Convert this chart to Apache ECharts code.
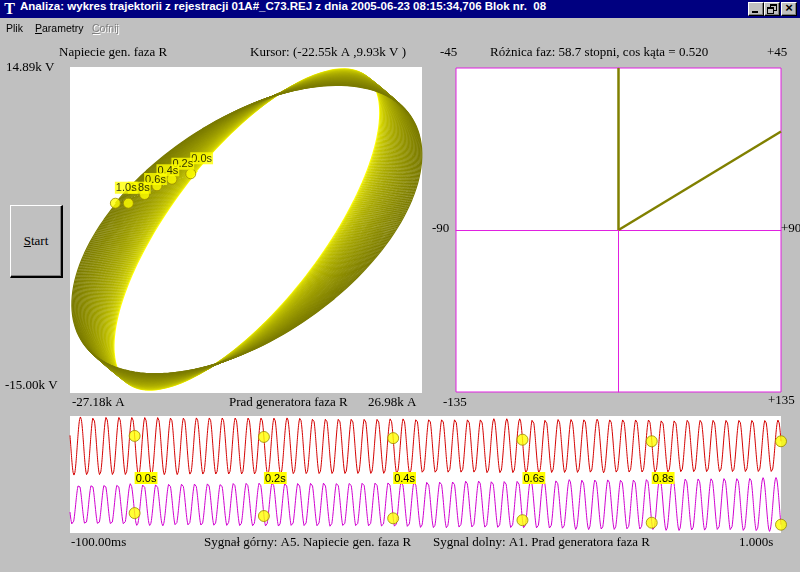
<!DOCTYPE html>
<html>
<head>
<meta charset="utf-8">
<script src="https://cdn.jsdelivr.net/npm/echarts@6/dist/echarts.min.js"></script>
<style>
html,body{margin:0;padding:0;width:800px;height:572px;overflow:hidden;background:#c0c0c0;}
#chart{position:absolute;left:0;top:0;width:800px;height:572px;}
#titlebar{position:absolute;left:0;top:0;width:800px;height:18px;background:#000080;z-index:5;}
#ticon{position:absolute;left:3px;top:0px;width:13px;height:17px;color:#fff;font:bold 16px 'Liberation Serif',serif;line-height:18px;text-align:center;}
#ttext{position:absolute;left:20px;top:0;height:18px;line-height:18px;color:#fff;font:bold 11.5px 'Liberation Sans',Arial,sans-serif;white-space:pre;}
.wbtn{position:absolute;top:2px;width:14px;height:12px;background:#c0c0c0;border-top:1px solid #fff;border-left:1px solid #fff;border-right:1px solid #000;border-bottom:1px solid #000;box-shadow:inset -1px -1px 0 #808080;}
#menubar{position:absolute;left:0;top:19px;width:800px;height:18px;z-index:5;font:10.5px 'Liberation Sans',Arial,sans-serif;color:#000;}
#menubar span{position:absolute;top:2px;line-height:14px;}
#startbtn{position:absolute;left:10px;top:205px;width:50px;height:70px;background:#c0c0c0;border-top:1px solid #fff;border-left:1px solid #fff;border-right:2px solid #000;border-bottom:2px solid #000;box-shadow:inset -1px -1px 0 #808080;z-index:5;font:13px 'Liberation Serif',serif;color:#000;text-align:center;line-height:70px;}
</style>
</head>
<body>
<div id="chart"></div>
<div id="titlebar">
  <div id="ticon">T</div>
  <div id="ttext">Analiza: wykres trajektorii z rejestracji 01A#_C73.REJ z dnia 2005-06-23 08:15:34,706 Blok nr.  08</div>
  <div class="wbtn" style="left:748px;"><div style="position:absolute;left:3px;top:8px;width:6px;height:2px;background:#000;"></div></div>
  <div class="wbtn" style="left:764px;"><div style="position:absolute;left:5px;top:1px;width:5px;height:4px;border:1px solid #000;border-top-width:2px;"></div><div style="position:absolute;left:2px;top:4px;width:5px;height:4px;border:1px solid #000;border-top-width:2px;background:#c0c0c0;"></div></div>
  <div class="wbtn" style="left:781px;"><div style="position:absolute;left:0;top:-2px;width:14px;text-align:center;font:bold 13px 'Liberation Sans',Arial,sans-serif;line-height:14px;">×</div></div>
</div>
<div id="menubar">
  <span style="left:6px;">Plik</span>
  <span style="left:35px;"><u>P</u>arametry</span>
  <span style="left:92px;color:#808080;text-shadow:1px 1px 0 #fff;"><u>C</u>ofnij</span>
</div>
<div id="startbtn"><u>S</u>tart</div>
<script>
// ---------------- data ----------------
// Axis ranges of the trajectory plot (labels on the panel)
const currentRange = [-27.18, 26.98];   // kA  (x axis)
const voltageRange = [-15.00, 14.89];   // kV  (y axis)
const cursorReading = ['-22.55k A', '9.93k V'];

// Oscillogram: time span and measured signal parameters
const sigTimeRange   = [-0.1, 1.0];     // s  (-100.00ms .. 1.000s)
const sigFrequency   = 50.0275;         // Hz (55 periods across the panel)
const sigStartAngle  = 159.6;           // deg, voltage angle at t = 0 s
const paramTimes     = [-0.1, 0.0, 0.2, 0.4, 0.6, 0.8, 1.0];             // s
const voltageAmp     = [14.74, 14.60, 14.32, 14.04, 13.76, 13.48, 13.20]; // kV
const currentAmp     = [20.4, 21.0, 22.2, 23.4, 24.6, 25.8, 27.0];       // kA
const currentLeadDeg = [43.2, 44.6, 47.5, 50.3, 53.2, 56.0, 58.9];       // deg

// Time markers (yellow dots)
const markerTimes   = [0.0, 0.2, 0.4, 0.6, 0.8, 1.0];
const markerLabels  = ['0.0s', '0.2s', '0.4s', '0.6s', '0.8s', '1.0s'];
const markerCurrent = [-8.6, -11.5, -13.8, -15.7, -18.2, -20.2];  // kA
const markerVoltage = [5.1, 4.6, 4.0, 3.2, 2.4, 2.4];             // kV

// Phase-difference panel
const phaseDiffDeg = 58.7;
const cosPhi = 0.520;
const phaseTickLabels = ['-45', '+45', '-90', '+90', '-135', '+135'];

// waveform display ranges
const voltWaveRange = [-15.2, 15.2];
const currWaveRange = [-28.5, 28.5];

// ---------------- build series ----------------
const DEG = Math.PI / 180;
function lerp(t, xs, ys) {
  if (t <= xs[0]) return ys[0];
  for (let i = 1; i < xs.length; i++) {
    if (t <= xs[i]) { const u = (t - xs[i-1]) / (xs[i] - xs[i-1]); return ys[i-1] + u * (ys[i] - ys[i-1]); }
  }
  return ys[ys.length - 1];
}
const dt = 0.000125;
const nS = Math.round((sigTimeRange[1] - sigTimeRange[0]) / dt);
const times = [], volt = [], curr = [];
for (let i = 0; i <= nS; i++) {
  const t = sigTimeRange[0] + i * dt;
  const th = (sigStartAngle + 360 * sigFrequency * t) * DEG;
  times.push(t);
  volt.push(lerp(t, paramTimes, voltageAmp) * Math.sin(th));
  curr.push(lerp(t, paramTimes, currentAmp) * Math.sin(th + lerp(t, paramTimes, currentLeadDeg) * DEG));
}

const series = [];
const spc = Math.round(1 / (sigFrequency * dt));
const nC = Math.ceil(nS / spc);
for (let k = 0; k < nC; k++) {
  const a = k * spc, b = Math.min(nS, (k + 1) * spc);
  const d = [];
  for (let i = a; i <= b; i++) d.push([curr[i], volt[i]]);
  const c = Math.pow(k / (nC - 1), 0.4);
  const r = Math.round(255 - 133 * c);
  series.push({
    type: 'line', xAxisIndex: 0, yAxisIndex: 0, data: d, symbol: 'none', showSymbol: false,
    lineStyle: { width: 1.2, color: 'rgb(' + r + ',' + r + ',0)' }, silent: true, z: 2
  });
}

// phasor end points from the phase difference
const phRad = phaseDiffDeg * DEG;
const dir = [Math.sin(phRad), Math.cos(phRad)];
const sc = 1 / Math.max(Math.abs(dir[0]), Math.abs(dir[1]));
const phasorRef = [[0, 0], [0, 1]];
const phasorCur = [[0, 0], [dir[0] * sc, dir[1] * sc]];
series.push({ type: 'line', xAxisIndex: 1, yAxisIndex: 1, data: phasorRef, symbol: 'none', lineStyle: { width: 2.5, color: '#808000' }, z: 3, silent: true });
series.push({ type: 'line', xAxisIndex: 1, yAxisIndex: 1, data: phasorCur, symbol: 'none', lineStyle: { width: 2.5, color: '#808000' }, z: 3, silent: true });

// waveforms
series.push({ type: 'line', xAxisIndex: 2, yAxisIndex: 2, data: times.map((t, i) => [t, volt[i]]), symbol: 'none', lineStyle: { width: 1, color: '#d40000' }, z: 2, silent: true });
series.push({ type: 'line', xAxisIndex: 3, yAxisIndex: 3, data: times.map((t, i) => [t, curr[i]]), symbol: 'none', lineStyle: { width: 1, color: '#d000d0' }, z: 2, silent: true });

const markerStyle = { color: '#ffff00', borderColor: '#9a8a00', borderWidth: 1 };
series.push({ type: 'scatter', xAxisIndex: 2, yAxisIndex: 2, data: markerTimes.map((t, i) => [t, markerVoltage[i]]), symbolSize: 11, itemStyle: markerStyle, z: 6, silent: true, clip: false });
series.push({ type: 'scatter', xAxisIndex: 3, yAxisIndex: 3, data: markerTimes.map((t, i) => [t, markerCurrent[i]]), symbolSize: 11, itemStyle: markerStyle, z: 6, silent: true, clip: false });
series.push({
  type: 'scatter', xAxisIndex: 0, yAxisIndex: 0, data: markerCurrent.map((c, i) => [c, markerVoltage[i]]),
  symbolSize: 10, itemStyle: markerStyle, z: 6, silent: true,
  label: { show: true, position: [5, -16], formatter: p => markerLabels[p.dataIndex], color: '#000', fontSize: 11,
           fontFamily: 'Liberation Sans, Arial, sans-serif', backgroundColor: '#ffff00', padding: [1, 1, 0, 1], lineHeight: 11 }
});

// ---------------- texts ----------------
const SERIF = '13px "Liberation Serif", "Times New Roman", serif';
function txt(x, y, s, align) {
  return { type: 'text', x: x, y: y, silent: true, z: 10,
           style: { text: s, font: SERIF, fill: '#000', verticalAlign: 'middle', align: align || 'left' } };
}
const graphics = [
  txt(59, 53, 'Napiecie gen. faza R'),
  txt(250, 53, 'Kursor: (' + cursorReading[0] + ' ,' + cursorReading[1] + ' )'),
  txt(6, 68, voltageRange[1].toFixed(2) + 'k V'),
  txt(5, 386, voltageRange[0].toFixed(2) + 'k V'),
  txt(72, 403, currentRange[0].toFixed(2) + 'k A'),
  txt(229, 403, 'Prad generatora faza R'),
  txt(368, 403, currentRange[1].toFixed(2) + 'k A'),
  txt(440, 53, phaseTickLabels[0]),
  txt(490, 53, 'Różnica faz: ' + phaseDiffDeg.toFixed(1) + ' stopni, cos kąta = ' + cosPhi.toFixed(3)),
  txt(767, 53, phaseTickLabels[1]),
  txt(432, 229, phaseTickLabels[2]),
  txt(781, 229, phaseTickLabels[3]),
  txt(443, 403, phaseTickLabels[4]),
  txt(768, 401, phaseTickLabels[5]),
  txt(71, 543, (sigTimeRange[0] * 1000).toFixed(2) + 'ms'),
  txt(204, 543, 'Sygnał górny: A5. Napiecie gen. faza R'),
  txt(433, 543, 'Sygnal dolny: A1. Prad generatora faza R'),
  txt(739, 543, sigTimeRange[1].toFixed(3) + 's')
];

const hiddenAxis = { show: false };
const option = {
  animation: false,
  backgroundColor: 'transparent',
  grid: [
    { left: 70, top: 67, width: 352, height: 326, show: true, backgroundColor: '#fff', borderWidth: 0 },
    { left: 456, top: 68, width: 325, height: 324, show: true, backgroundColor: '#fff', borderColor: '#e020e0', borderWidth: 1 },
    { left: 70, top: 416, width: 711, height: 60, show: true, backgroundColor: '#fff', borderWidth: 0 },
    { left: 70, top: 476, width: 711, height: 57, show: true, backgroundColor: '#fff', borderWidth: 0 }
  ],
  xAxis: [
    Object.assign({ gridIndex: 0, type: 'value', min: currentRange[0], max: currentRange[1] }, hiddenAxis),
    { gridIndex: 1, type: 'value', min: -1, max: 1, axisLine: { show: true, onZero: true, lineStyle: { color: '#e020e0', width: 1 } },
      axisTick: { show: false }, axisLabel: { show: false }, splitLine: { show: false } },
    { gridIndex: 2, type: 'value', min: sigTimeRange[0], max: sigTimeRange[1], z: 10,
      axisLine: { show: false }, axisTick: { show: false }, splitLine: { show: false },
      axisLabel: { show: true, customValues: markerTimes.slice(0, 5), formatter: v => v.toFixed(1) + 's', align: 'left', margin: -4,
                   color: '#000', fontSize: 11, fontFamily: 'Liberation Sans, Arial, sans-serif', backgroundColor: '#ffff00',
                   padding: [1, 1, 0, 1], lineHeight: 11 } },
    Object.assign({ gridIndex: 3, type: 'value', min: sigTimeRange[0], max: sigTimeRange[1] }, hiddenAxis)
  ],
  yAxis: [
    Object.assign({ gridIndex: 0, type: 'value', min: voltageRange[0], max: voltageRange[1] }, hiddenAxis),
    { gridIndex: 1, type: 'value', min: -1, max: 1, axisLine: { show: true, onZero: true, lineStyle: { color: '#e020e0', width: 1 } },
      axisTick: { show: false }, axisLabel: { show: false }, splitLine: { show: false } },
    Object.assign({ gridIndex: 2, type: 'value', min: voltWaveRange[0], max: voltWaveRange[1] }, hiddenAxis),
    Object.assign({ gridIndex: 3, type: 'value', min: currWaveRange[0], max: currWaveRange[1] }, hiddenAxis)
  ],
  series: series,
  graphic: graphics
};
const chart = echarts.init(document.getElementById('chart'));
chart.setOption(option);
</script>
</body>
</html>
